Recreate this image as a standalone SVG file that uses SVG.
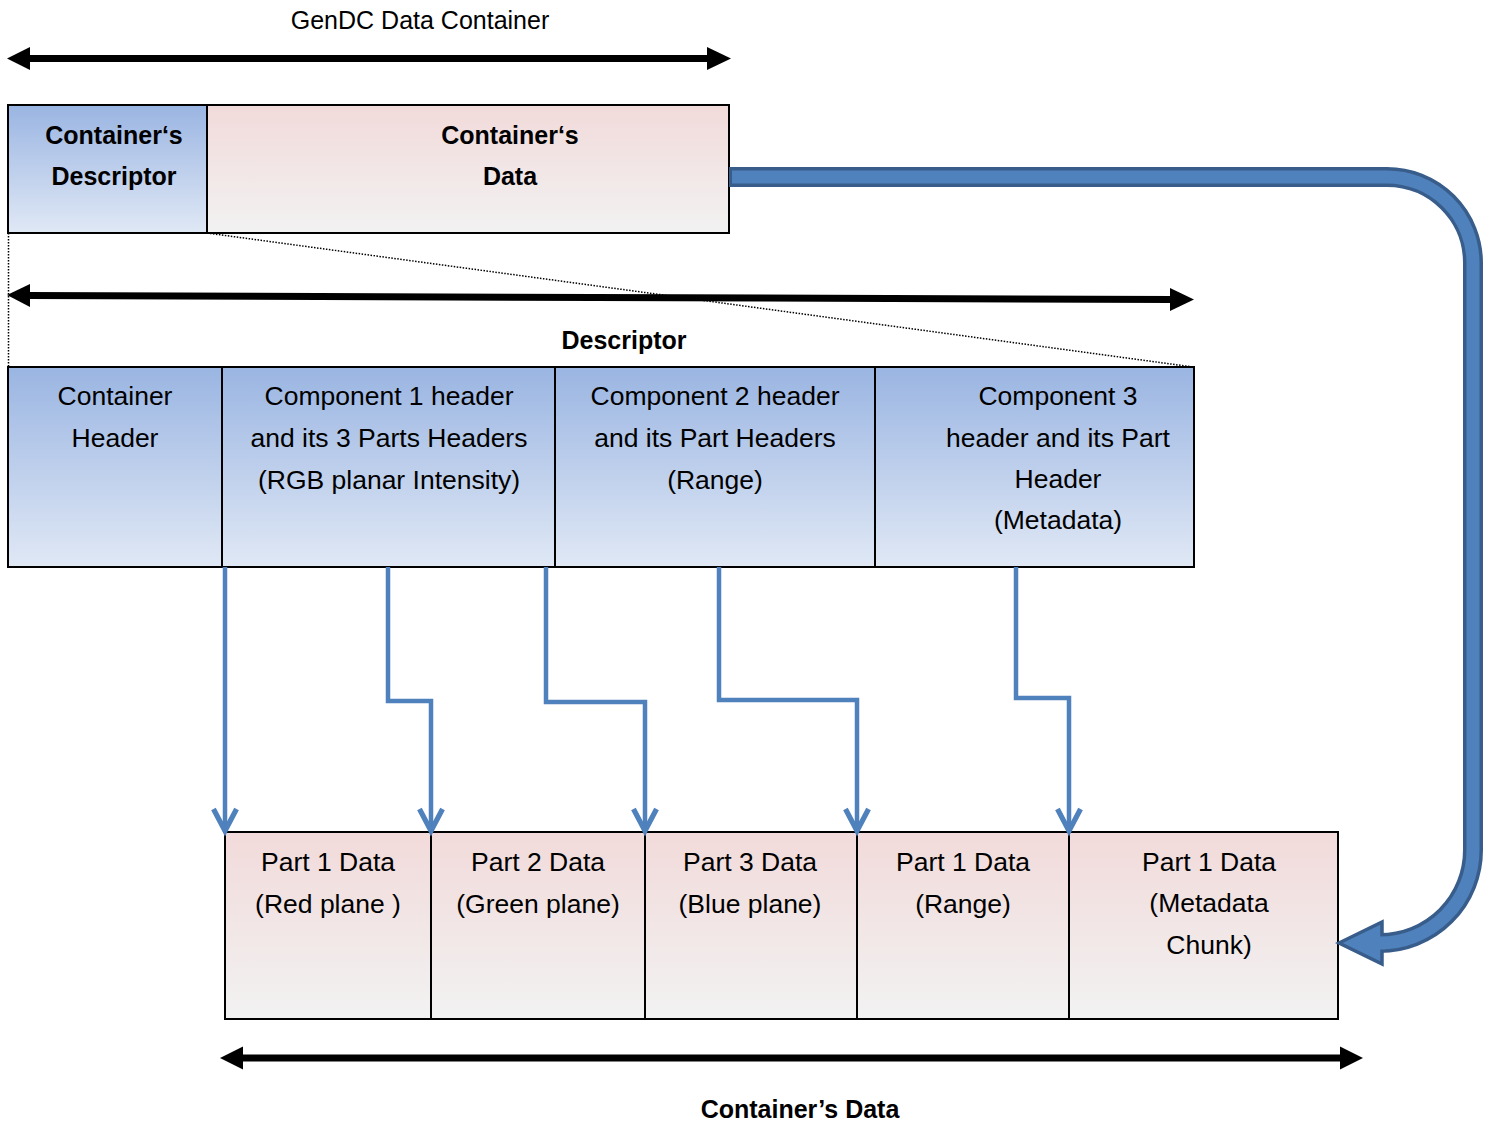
<svg xmlns="http://www.w3.org/2000/svg" width="1491" height="1122" viewBox="0 0 1491 1122">
<style>
text{font-family:"Liberation Sans",Arial,sans-serif;font-size:26.5px;fill:#000;text-anchor:middle}
.b{font-weight:bold;font-size:25px}
.blue{fill:url(#gb);stroke:#000;stroke-width:2}
.pink{fill:url(#gp);stroke:#000;stroke-width:2}
.conn{fill:none;stroke:#4F81BD;stroke-width:4.5;stroke-linejoin:miter}
.dim{fill:none;stroke:#000;stroke-width:7}
.dot{fill:none;stroke:#000;stroke-width:1.5;stroke-dasharray:1.5 1.5}
</style>
<defs>
<linearGradient id="gb" x1="0" y1="0" x2="0" y2="1"><stop offset="0" stop-color="#9AB5E2"/><stop offset="1" stop-color="#E0E8F5"/></linearGradient>
<linearGradient id="gp" x1="0" y1="0" x2="0" y2="1"><stop offset="0" stop-color="#F2DADA"/><stop offset="1" stop-color="#F2F2F2"/></linearGradient>
<marker id="v" markerUnits="userSpaceOnUse" markerWidth="30" markerHeight="30" viewBox="-22 -13 26 26" refX="0" refY="0" orient="auto" overflow="visible">
<path d="M-19,-10 L0,0 L-19,10" fill="none" stroke="#4F81BD" stroke-width="4.5"/>
</marker>
</defs>

<g id="dimensions">
<text x="420" y="29" style="font-size:25px">GenDC Data Container</text>
<line class="dim" x1="28" y1="58.5" x2="710" y2="58.5"/>
<path d="M7,58.5 L30,47 L30,70 Z"/>
<path d="M731,58.5 L707,47 L707,70 Z"/>
<line class="dim" x1="28" y1="295.5" x2="1172" y2="299.5"/>
<path d="M7,295 L30,284 L30,307 Z"/>
<path d="M1194,299.5 L1170,288 L1170,311 Z"/>
<text class="b" x="624" y="349">Descriptor</text>
<line class="dim" x1="240" y1="1058" x2="1342" y2="1058"/>
<path d="M220,1058 L243,1046.5 L243,1069.5 Z"/>
<path d="M1363,1058 L1340,1046.5 L1340,1069.5 Z"/>
<text class="b" x="800" y="1118">Container’s Data</text>
</g>

<g id="zoom-lines">
<line class="dot" x1="8.5" y1="233" x2="8.5" y2="367"/>
<line class="dot" x1="207" y1="233" x2="1193" y2="367"/>
</g>

<g id="containers-descriptor">
<rect class="blue" x="8" y="105" width="199" height="128"/>
<text class="b" x="114" y="144">Container‘s</text>
<text class="b" x="114" y="185">Descriptor</text>
</g>
<g id="containers-data">
<rect class="pink" x="207" y="105" width="522" height="128"/>
<text class="b" x="510" y="144">Container‘s</text>
<text class="b" x="510" y="185">Data</text>
</g>

<g id="container-header">
<rect class="blue" x="8" y="367" width="214" height="200"/>
<text x="115" y="405">Container</text>
<text x="115" y="447">Header</text>
</g>
<g id="component1">
<rect class="blue" x="222" y="367" width="333" height="200"/>
<text x="389" y="405">Component 1 header</text>
<text x="389" y="447">and its 3 Parts Headers</text>
<text x="389" y="489">(RGB planar Intensity)</text>
</g>
<g id="component2">
<rect class="blue" x="555" y="367" width="320" height="200"/>
<text x="715" y="405">Component 2 header</text>
<text x="715" y="447">and its Part Headers</text>
<text x="715" y="489">(Range)</text>
</g>
<g id="component3">
<rect class="blue" x="875" y="367" width="319" height="200"/>
<text x="1058" y="405">Component 3</text>
<text x="1058" y="447">header and its Part</text>
<text x="1058" y="488">Header</text>
<text x="1058" y="529">(Metadata)</text>
</g>

<g id="part-red">
<rect class="pink" x="225" y="832" width="206" height="187"/>
<text x="328" y="871">Part 1 Data</text>
<text x="328" y="913">(Red plane )</text>
</g>
<g id="part-green">
<rect class="pink" x="431" y="832" width="214" height="187"/>
<text x="538" y="871">Part 2 Data</text>
<text x="538" y="913">(Green plane)</text>
</g>
<g id="part-blue">
<rect class="pink" x="645" y="832" width="212" height="187"/>
<text x="750" y="871">Part 3 Data</text>
<text x="750" y="913">(Blue plane)</text>
</g>
<g id="part-range">
<rect class="pink" x="857" y="832" width="212" height="187"/>
<text x="963" y="871">Part 1 Data</text>
<text x="963" y="913">(Range)</text>
</g>
<g id="part-metadata">
<rect class="pink" x="1069" y="832" width="269" height="187"/>
<text x="1209" y="871">Part 1 Data</text>
<text x="1209" y="912">(Metadata</text>
<text x="1209" y="954">Chunk)</text>
</g>

<g id="connectors">
<path class="conn" marker-end="url(#v)" d="M225,567 V831"/>
<path class="conn" marker-end="url(#v)" d="M388,567 V701 H431 V831"/>
<path class="conn" marker-end="url(#v)" d="M546,567 V702 H645 V831"/>
<path class="conn" marker-end="url(#v)" d="M719,567 V700 H857 V831"/>
<path class="conn" marker-end="url(#v)" d="M1016,567 V698 H1069 V831"/>
<g id="data-link">
<path d="M729,177 H1387 A86,86 0 0 1 1473,263 V850 A93,93 0 0 1 1380,943" fill="none" stroke="#385D8A" stroke-width="20"/>
<path d="M1339,943 L1382,922 L1382,964 Z" fill="#4F81BD" stroke="#385D8A" stroke-width="3.5" stroke-linejoin="miter"/>
<path d="M732,177 H1387 A86,86 0 0 1 1473,263 V850 A93,93 0 0 1 1380,943 H1385" fill="none" stroke="#4F81BD" stroke-width="13"/>
</g>
</g>
</svg>
